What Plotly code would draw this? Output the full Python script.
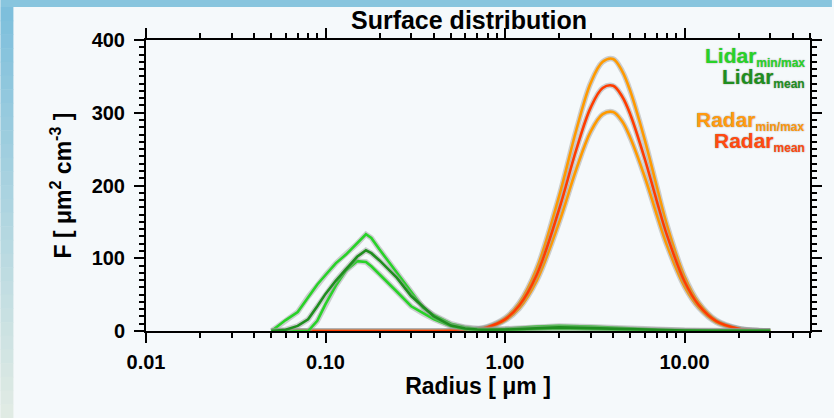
import plotly.graph_objects as go

# ---------------- data ----------------
lidar_radius = [0.05, 0.06, 0.07, 0.08, 0.09, 0.10, 0.114, 0.13, 0.15, 0.168, 0.18, 0.2,
                0.25, 0.3, 0.35, 0.4, 0.5, 0.6, 0.7, 0.8, 1.0, 1.5, 2.0, 3.0, 5.0, 7.0,
                10, 15, 20, 30]
lidar_max = [0, 15, 26, 47, 64, 77, 93, 105, 120, 133, 128, 112, 80, 54, 32, 22, 10, 5, 3,
             2.5, 3, 6, 7, 6, 3.5, 2, 1.2, 0.8, 0.5, 0.3]
lidar_mean = [0, 1.8, 7, 16, 34, 51, 69, 85, 102, 111, 107, 97, 73, 48, 33, 20.5, 7.5, 3.5,
              2, 1.5, 2, 4, 5, 4, 2.2, 1.2, 0.7, 0.4, 0.3, 0.2]
lidar_min = [0, 0, 0, 0, 14, 37, 62, 83, 96, 95, 89, 78, 54, 34, 24, 16.5, 6.5, 2.5, 1.2,
             1, 1.2, 2.5, 3, 2.5, 1.2, 0.6, 0.3, 0.2, 0.1, 0.1]

radar_radius = [0.05, 0.1, 0.2, 0.3, 0.4, 0.5, 0.6, 0.7, 0.8, 1.0, 1.2, 1.5, 2.0, 2.5, 3.0,
                3.5, 4.0, 4.5, 5.0, 6.0, 7.0, 8.0, 10, 12, 15, 20, 25, 30]
radar_max = [0, 0, 0, 0, 0, 0.3, 1.1, 2.8, 5.9, 17.9, 38.6, 85.5, 185, 277, 341, 370, 374,
             357, 329, 263, 199, 145, 75, 39, 15, 3.4, 0.9, 0.2]
radar_mean = [0, 0, 0, 0, 0, 0.3, 1.0, 2.5, 5.3, 16, 35, 77, 167, 250, 307, 334, 337, 322,
              297, 237, 179, 131, 68, 35.5, 13.6, 3.1, 0.8, 0.2]
radar_min = [0, 0, 0, 0, 0, 0.3, 0.9, 2.2, 4.7, 14.4, 31.1, 68.9, 149, 223, 274, 298, 301,
             288, 265, 212, 160, 117, 61, 32, 12, 2.8, 0.7, 0.2]

x_tickvals = [0.01, 0.1, 1, 10]
x_ticktext = ["0.01", "0.10", "1.00", "10.00"]
y_tickvals = [0, 100, 200, 300, 400]

TITLE = "Surface distribution"
XTITLE = "Radius [ \u03bcm ]"
YTITLE = "F [ \u03bcm<sup>2</sup> cm<sup>-3</sup> ]"

# ---------------- styling ----------------
W, H = 834, 418
L, R, T, B = 146, 22, 40, 87
FONT = "Liberation Sans, Arial, Helvetica, sans-serif"
C_LID_MM = "#28d228"
C_LID_MEAN = "#1f8e1f"
C_RAD_MM = "#ff9a00"
C_RAD_MEAN = "#ff3c00"
HALO = "rgba(150,150,150,0.45)"

fig = go.Figure()


def add_line(x, y, color, shape):
    fig.add_trace(go.Scatter(x=x, y=y, mode="lines", hoverinfo="skip",
                             line=dict(color=HALO, width=5.5, shape=shape), showlegend=False))
    fig.add_trace(go.Scatter(x=x, y=y, mode="lines",
                             line=dict(color=color, width=2.6, shape=shape), showlegend=False))


add_line(radar_radius, radar_max, C_RAD_MM, "spline")
add_line(radar_radius, radar_min, C_RAD_MM, "spline")
add_line(radar_radius, radar_mean, C_RAD_MEAN, "spline")
add_line(lidar_radius, lidar_max, C_LID_MM, "linear")
add_line(lidar_radius, lidar_min, C_LID_MM, "linear")
add_line(lidar_radius, lidar_mean, C_LID_MEAN, "linear")

minor_x = [m * 10 ** e for e in (-2, -1, 0, 1) for m in range(2, 10) if m * 10 ** e <= 50]

axis_common = dict(showgrid=False, zeroline=False, showline=True, linecolor="black",
                   linewidth=2, ticks="outside", tickcolor="black", tickwidth=2,
                   mirror="ticks", layer="below traces",
                   tickfont=dict(family=FONT, size=20, color="black", weight="bold"))

fig.update_xaxes(type="log", range=[-2, 1.69897], tickmode="array",
                 tickvals=x_tickvals, ticktext=x_ticktext, ticklen=10,
                 ticklabelstandoff=2,
                 minor=dict(tickmode="array", tickvals=minor_x, ticks="outside",
                            ticklen=5, tickcolor="black", tickwidth=1.5, showgrid=False),
                 title=dict(text=XTITLE, standoff=3,
                            font=dict(family=FONT, size=23, color="black", weight="bold")),
                 **axis_common)
fig.update_yaxes(range=[0, 400], tickmode="array", tickvals=y_tickvals, ticklen=10,
                 ticklabelstandoff=5,
                 minor=dict(dtick=10, ticks="outside", ticklen=5, tickcolor="black",
                            tickwidth=1.5, showgrid=False),
                 title=dict(text=YTITLE, standoff=14,
                            font=dict(family=FONT, size=23, color="black", weight="bold")),
                 **axis_common)

# background frame (blue strips of the slide)
shapes = []
px2x = lambda px: (px - L) / (W - L - R)
py2y = lambda py: (H - B - py) / (H - T - B)
shapes.append(dict(type="rect", xref="paper", yref="paper", layer="below",
                   x0=px2x(0), x1=px2x(W), y0=py2y(7), y1=py2y(0),
                   fillcolor="#88c5de", line=dict(width=0)))
top_c = (126, 191, 220)
bot_c = (224, 235, 228)
N = 30
for i in range(N):
    f = i / (N - 1)
    c = tuple(int(round(top_c[k] + (bot_c[k] - top_c[k]) * f)) for k in range(3))
    shapes.append(dict(type="rect", xref="paper", yref="paper", layer="below",
                       x0=px2x(0), x1=px2x(13),
                       y0=py2y(7 + (H - 7) * (i + 1) / N + 0.5), y1=py2y(7 + (H - 7) * i / N),
                       fillcolor="rgb(%d,%d,%d)" % c, line=dict(width=0)))

# legend texts
def legend_text(main, sub, color, ypx):
    return dict(xref="paper", yref="paper", x=px2x(809), y=py2y(ypx), xanchor="right",
                yanchor="middle", showarrow=False,
                text="%s<sub><span style='font-size:12px'>%s</span></sub>" % (main, sub),
                font=dict(family=FONT, size=21, color=color, weight="bold",
                          shadow="0px 0px 1.5px #8a8a8a"))

annotations = [
    legend_text("Lidar", "min/max", C_LID_MM, 57),
    legend_text("Lidar", "mean", C_LID_MEAN, 78),
    legend_text("Radar", "min/max", "#ff9a10", 121),
    legend_text("Radar", "mean", "#ff4a10", 142),
]

fig.update_layout(
    width=W, height=H, margin=dict(l=L, r=R, t=T, b=B),
    paper_bgcolor="#f5f9fb", plot_bgcolor="#f5f9fb",
    title=dict(text=TITLE, x=px2x(470), xref="paper", xanchor="center",
               y=1 - 20 / H, yref="container", yanchor="middle",
               font=dict(family=FONT, size=25, color="black", weight="bold")),
    shapes=shapes, annotations=annotations, showlegend=False,
)

fig.write_html("out.html")
